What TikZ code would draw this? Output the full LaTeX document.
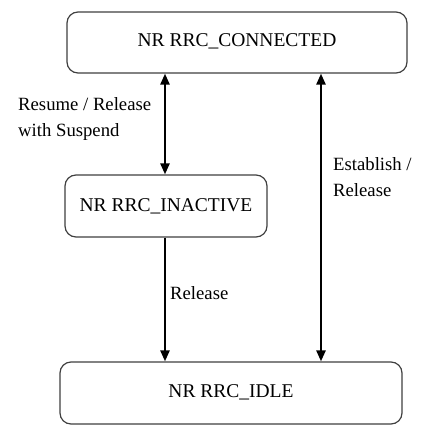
\documentclass[tikz,border=0pt]{standalone}
\usepackage{fontspec}
\setmainfont{Liberation Serif}
\usetikzlibrary{arrows.meta}
\begin{document}
\begin{tikzpicture}[x=1pt,y=-1pt,
  statebox/.style={draw=black!75,line width=1.2pt,rounded corners=11pt,inner sep=0pt,
    font=\fontsize{19.5}{24}\selectfont},
  conn/.style={line width=2.4pt,black,{Triangle[length=11pt,width=9pt]}-{Triangle[length=11pt,width=9pt]}},
  oneway/.style={line width=2.4pt,black,-{Triangle[length=11pt,width=9pt]}},
  lbl/.style={font=\fontsize{18.7}{26}\selectfont,align=left,inner sep=0pt,anchor=north west}]
\useasboundingbox[fill=white] (0,0) rectangle (425,433);
\node[statebox,minimum width=340pt,minimum height=61pt] (connected) at (237,42.5) {\raisebox{4pt}{NR RRC\_CONNECTED}};
\node[statebox,minimum width=202pt,minimum height=62pt] (inactive) at (166,206) {\raisebox{2pt}{NR RRC\_INACTIVE}};
\node[statebox,minimum width=342pt,minimum height=62pt] (idle) at (231,393) {\raisebox{4pt}{NR RRC\_IDLE}};
\coordinate (rx) at (321,0);
\draw[conn] (inactive.north -| 165,0) -- (connected.south -| 165,0);
\draw[oneway] (inactive.south -| 165,0) -- (idle.north -| 165,0);
\draw[conn] (idle.north -| rx) -- (connected.south -| rx);
\node[lbl] (l1) at (18,97) {Resume / Release\\with Suspend};
\node[lbl] (l2) at (333,157) {Establish /\\Release};
\node[lbl] (l3) at (170,286) {Release};
\end{tikzpicture}
\end{document}
